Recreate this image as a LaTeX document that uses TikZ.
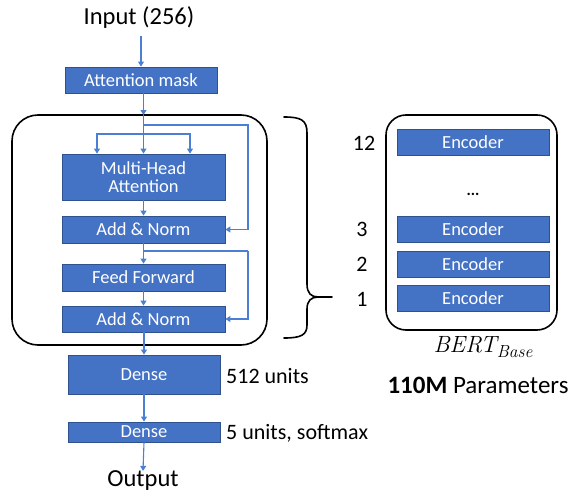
\documentclass[tikz,border=0pt]{standalone}
\usepackage{fontspec}
\setmainfont{Carlito}
\newfontfamily\lmfont{Latin Modern Roman}
\usetikzlibrary{arrows.meta,calc}
\definecolor{boxblue}{HTML}{4472C4}
\definecolor{boxedge}{HTML}{2F528F}
\definecolor{arrblue}{HTML}{4A7FD4}
\tikzset{
  blk/.style={draw=boxedge, line width=0.8pt, fill=boxblue, text=white, inner sep=0pt,
    align=center, font=\fontsize{18.5}{21}\selectfont},
  lbl/.style={inner sep=0pt, font=\fontsize{22}{25}\selectfont},
  big/.style={inner sep=0pt, font=\fontsize{24.5}{28}\selectfont},
  arr/.style={draw=arrblue, line width=1.1pt, -{Triangle[width=6pt,length=5pt]}},
  ln/.style={draw=arrblue, line width=1.1pt},
  frame/.style={draw=black, line width=1.6pt, rounded corners=26pt, inner sep=0pt},
}
\begin{document}
\begin{tikzpicture}[x=1pt,y=-1pt]
\useasboundingbox (0,0) rectangle (575,495);
% left column
\node[big] (in) at (139,18) {Input (256)};
\node[blk, minimum width=152, minimum height=26] (am) at (141,80) {Attention mask};
\node[frame, minimum width=255, minimum height=230] (layer) at (139.5,230) {};
\node[blk, minimum width=163, minimum height=46] (mha) at (143.5,177) {Multi-Head\\[-3pt]Attention};
\node[blk, minimum width=163, minimum height=27] (an1) at (143.5,229.5) {Add \& Norm};
\node[blk, minimum width=163, minimum height=27] (ff) at (143.5,277.5) {Feed Forward};
\node[blk, minimum width=163, minimum height=26] (an2) at (143.5,319) {Add \& Norm};
\node[blk, minimum width=152, minimum height=39] (d1) at (144,374.5) {Dense};
\node[blk, minimum width=152, minimum height=20] (d2) at (144,432) {Dense};
\node[lbl, anchor=west] (u512) at (226,376) {512 units};
\node[lbl, anchor=west] (u5) at (226,433) {5 units, softmax};
\node[big] (out) at (143,481) {Output};
% connectors
\draw[arr] (am.north |- 0,36) -- (am.north);
\coordinate (ltop) at (143.5,115);
\draw[arr] (am.south -| ltop) -- (ltop);
\draw[arr] (ltop) -- (mha.north);
\coordinate (b) at (143.5,134);
\draw[arr] (b) -| ([xshift=-46.5]mha.north);
\draw[arr] (b) -| ([xshift=46.5]mha.north);
\coordinate (r1) at (248,125);
\draw[arr] (r1 -| ltop) -- (r1) |- (an1.east);
\draw[arr] (mha.south) -- (an1.north);
\draw[arr] (an1.south) -- (ff.north);
\coordinate (r2) at (248,251);
\draw[ln] (r2 -| ltop) -- (r2);
\draw[arr] (r2) |- (an2.east);
\draw[arr] (ff.south) -- (an2.north);
\draw[arr] (an2.south -| d1) -- (d1.north);
\draw[arr] (d1.south) -- (d2.north);
\draw[arr] (d2.south) -- (out.north);
% brace
\draw[line width=1.6pt, line cap=round]
  (284,117) .. controls (301,117) and (307,120) .. (307,133) -- (307,284)
  .. controls (307,293) and (311,297) .. (318,297) -- (332,297);
\draw[line width=1.6pt, line cap=round]
  (318,297) .. controls (311,297) and (307,301) .. (307,309) -- (307,325)
  .. controls (307,335) and (301,338) .. (284,338);
% right column
\node[frame, rounded corners=20pt, minimum width=171, minimum height=215] (bert) at (471.5,222.5) {};
\node[blk, minimum width=152, minimum height=26] (e12) at (473,142) {Encoder};
\node[blk, minimum width=152, minimum height=26] (e3) at (473,229.5) {Encoder};
\node[blk, minimum width=152, minimum height=26] (e2) at (473,264) {Encoder};
\node[blk, minimum width=152, minimum height=26] (e1) at (473,298.5) {Encoder};
\node[lbl, font=\bfseries\fontsize{16}{18}\selectfont] (dots) at (473,194) {...};
\node[lbl] (n12) at (364,143) {12};
\node[lbl] (n3) at (362,229) {3};
\node[lbl] (n2) at (362,264) {2};
\node[lbl] (n1) at (362,299) {1};
\node[inner sep=0pt, font=\lmfont\itshape\fontsize{23.5}{27}\selectfont] (bb) at (483,347)
  {BERT\raisebox{-5pt}{\fontsize{17.5}{19}\selectfont Base}};
\node[lbl, font=\fontsize{25}{28}\selectfont] (par) at (478,385) {\textbf{110M} Parameters};
\end{tikzpicture}
\end{document}
